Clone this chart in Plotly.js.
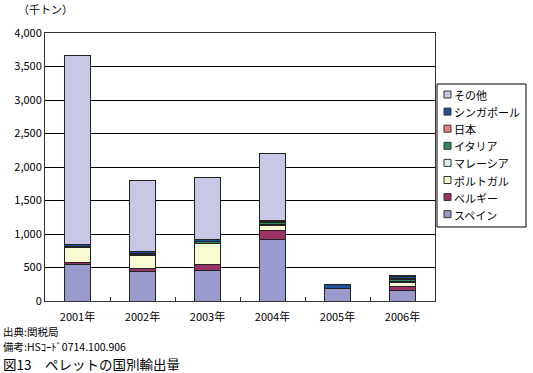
<!DOCTYPE html>
<html><head><meta charset="utf-8">
<script src="https://cdn.plot.ly/plotly-3.0.1.min.js"></script>
<style>body{margin:0;background:#fff}#c{width:533px;height:373px}</style>
</head><body><div id="c"></div>
<script>
const years = ['2001年','2002年','2003年','2004年','2005年','2006年'];
const spain     = [550, 440, 450, 925, 190, 160];
const belgium   = [25, 50, 100, 125, 0, 60];
const portugal  = [230, 190, 305, 70, 0, 60];
const malaysia  = [5, 10, 10, 15, 0, 15];
const italy     = [5, 20, 25, 35, 0, 25];
const japan     = [5, 5, 5, 20, 0, 10];
const singapore = [20, 20, 20, 10, 60, 40];
const other     = [2820, 1070, 935, 1000, 0, 10];
const seriesNames = ['スペイン','ベルギー','ポルトガル','マレーシア','イタリア','日本','シンガポール','その他'];
const seriesColors = ['#9999CC','#993366','#FAFAD2','#D8F2F2','#2E8B57','#F08080','#1F4E9C','#C8C8E6'];
const seriesData = [spain, belgium, portugal, malaysia, italy, japan, singapore, other];

const FONT = '"Noto Sans CJK JP", "Noto Sans", sans-serif';
const W = 533, H = 373, ML = 45, MR = 98, MT = 33, MB = 72;
const PW = W - ML - MR, PH = H - MT - MB;
const px = x => (x - ML) / PW;          // pixel -> paper x
const py = y => (H - MB - y) / PH;      // pixel -> paper y

const traces = seriesData.map((d,i)=>({
  type:'bar', name: seriesNames[i], x: years, y: d,
  marker:{color: seriesColors[i], line:{color:'#222', width:1}},
  hoverinfo:'skip', showlegend:false
}));

// legend drawn as box + swatches + labels, top to bottom in reversed series order
const shapes = [{type:'rect', xref:'paper', yref:'paper', x0:px(437), x1:px(526), y0:py(84), y1:py(227),
  line:{color:'#000', width:1}, fillcolor:'#fff', layer:'above'}];
const annotations = [];
const n = seriesNames.length;
for (let k = 0; k < n; k++) {
  const i = n - 1 - k;
  const cy = 94.5 + k * 17.1;
  shapes.push({type:'rect', xref:'paper', yref:'paper', x0:px(444), x1:px(451), y0:py(cy+3.5), y1:py(cy-3.5),
    line:{color:'#333', width:1}, fillcolor:seriesColors[i], layer:'above'});
  annotations.push({text:seriesNames[i], xref:'paper', yref:'paper', x:px(452), y:py(cy), xanchor:'left', yanchor:'middle',
    showarrow:false, height:15, font:{family:FONT, size:11, color:'#000'}});
}

annotations.push(
  {text:'（千トン）', xref:'paper', yref:'paper', x:-0.075, y:1.09, xanchor:'left', yanchor:'middle', showarrow:false, font:{family:FONT, size:11}},
  {text:'出典:関税局', xref:'paper', yref:'paper', x:-0.112, y:py(331), xanchor:'left', yanchor:'middle', showarrow:false, height:13, font:{family:FONT, size:10.5}},
  {text:'備考:HSｺｰﾄﾞ0714.100.906', xref:'paper', yref:'paper', x:-0.112, y:py(346), xanchor:'left', yanchor:'middle', showarrow:false, height:13, font:{family:FONT, size:10.5}},
  {text:'図13　ペレットの国別輸出量', xref:'paper', yref:'paper', x:-0.112, y:py(363.3), xanchor:'left', yanchor:'middle', showarrow:false, height:15, font:{family:FONT, size:13.5}}
);

const layout = {
  width:W, height:H,
  margin:{l:ML, r:MR, t:MT, b:MB},
  barmode:'stack', bargap:0.6,
  paper_bgcolor:'#fff', plot_bgcolor:'#fff',
  font:{family:FONT, size:11, color:'#000'},
  showlegend:false,
  xaxis:{type:'category', showline:true, linecolor:'#333', linewidth:1, mirror:true,
    ticks:'inside', tickson:'boundaries', ticklen:4, tickcolor:'#333', ticklabelstandoff:6,
    tickfont:{family:FONT, size:11}, showgrid:false},
  yaxis:{range:[0,4000], dtick:500, tickformat:',d', showline:true, linecolor:'#333', linewidth:1, mirror:true,
    showgrid:true, gridcolor:'#000', gridwidth:1, ticks:'', tickfont:{family:FONT, size:11}, zeroline:false},
  shapes: shapes,
  annotations: annotations
};
Plotly.newPlot('c', traces, layout, {displayModeBar:false, staticPlot:true});
</script></body></html>
